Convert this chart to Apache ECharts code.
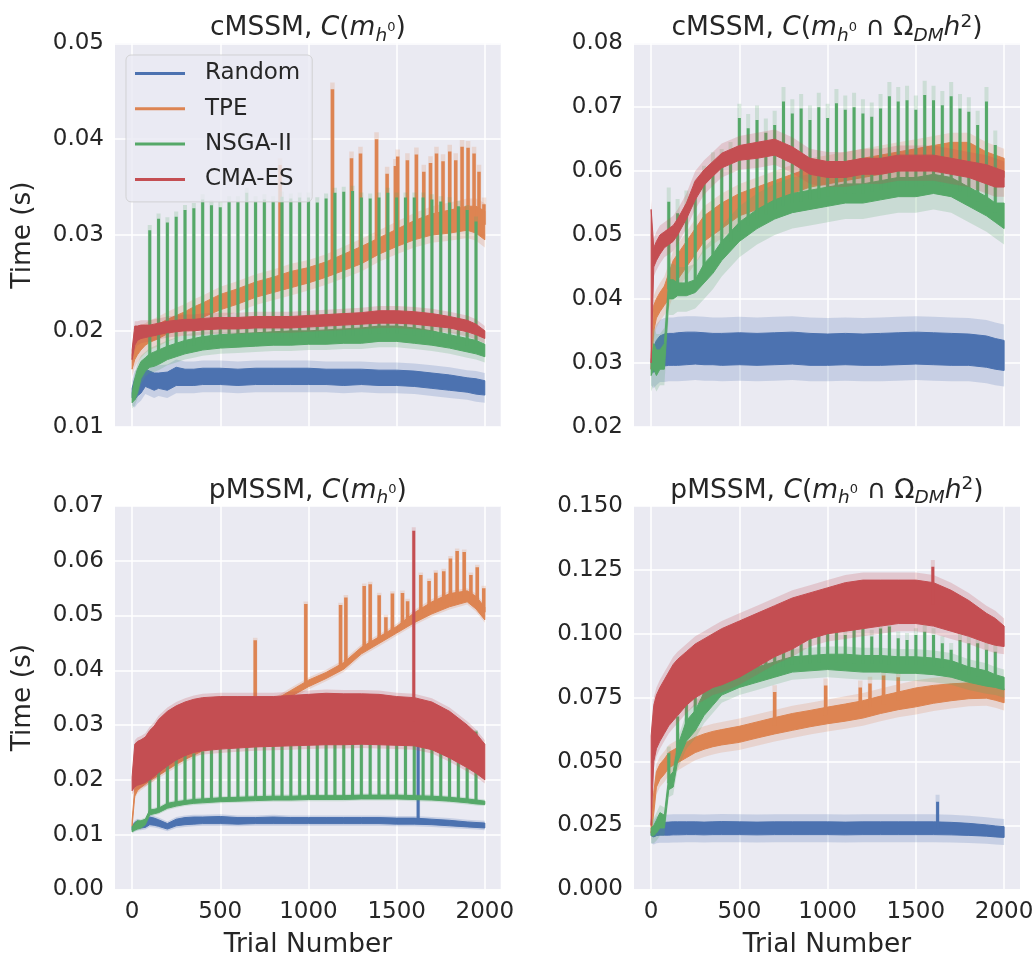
<!DOCTYPE html>
<html><head><meta charset="utf-8">
<script src="https://cdn.jsdelivr.net/npm/echarts@6/dist/echarts.min.js"></script>
<style>html,body{margin:0;padding:0;background:#fff}#c{width:1035px;height:959px}</style>
</head><body><div id="c"></div><script>
// ---------- shared data ----------
const algorithms = ['Random', 'TPE', 'NSGA-II', 'CMA-ES'];
const trials = [0,15,30,50,75,100,125,150,200,250,300,350,400,500,600,700,800,900,1000,1100,1200,1300,1400,1500,1600,1700,1800,1900,1950,2000];
const xTicks = [0, 500, 1000, 1500, 2000];
const nsgaSpikeTrials = [100,150,200,250,300,350,400,450,500,550,600,650,700,750,800,850,900,950,1000,1050,1100,1150,1200,1250,1300,1350,1400,1450,1500,1550,1600,1650,1700,1750,1800,1850,1900,1950];

// ---------- cMSSM, C(m_h0) ----------
const cm1RandomLo = [0.0130,0.0128,0.0132,0.0135,0.0142,0.0140,0.0138,0.0140,0.0138,0.0143,0.0143,0.0143,0.0144,0.0144,0.0143,0.0144,0.0144,0.0144,0.0144,0.0144,0.0143,0.0144,0.0143,0.0143,0.0142,0.0140,0.0138,0.0136,0.0134,0.0133];
const cm1RandomHi = [0.0140,0.0150,0.0152,0.0155,0.0160,0.0158,0.0156,0.0156,0.0157,0.0162,0.0160,0.0160,0.0161,0.0161,0.0160,0.0161,0.0161,0.0161,0.0161,0.0160,0.0160,0.0160,0.0159,0.0159,0.0158,0.0156,0.0154,0.0151,0.0150,0.0148];
const cm1TpeLo = [0.0160,0.0170,0.0175,0.0180,0.0185,0.0188,0.0190,0.0192,0.0197,0.0200,0.0205,0.0210,0.0214,0.0222,0.0228,0.0235,0.0240,0.0245,0.0250,0.0256,0.0263,0.0270,0.0280,0.0288,0.0295,0.0300,0.0302,0.0305,0.0302,0.0295];
const cm1TpeHi = [0.0175,0.0190,0.0195,0.0198,0.0200,0.0203,0.0205,0.0207,0.0212,0.0216,0.0220,0.0225,0.0229,0.0238,0.0244,0.0251,0.0256,0.0262,0.0266,0.0272,0.0280,0.0288,0.0297,0.0306,0.0315,0.0322,0.0326,0.0330,0.0330,0.0325];
const cm1TpeSpikeTrials = [839,1136,1244,1295,1386,1446,1493,1506,1561,1612,1654,1692,1726,1763,1801,1835,1871,1905,1939,1967,1995];
const cm1TpeSpikePeaks = [0.0373,0.0452,0.0380,0.0385,0.0400,0.0364,0.0372,0.0382,0.0378,0.0384,0.0366,0.0375,0.0385,0.0377,0.0387,0.0378,0.0392,0.0391,0.0385,0.0366,0.0332];
const cm1NsgaLo = [0.0125,0.0128,0.0135,0.0150,0.0158,0.0162,0.0163,0.0165,0.0170,0.0173,0.0176,0.0178,0.0180,0.0182,0.0183,0.0184,0.0185,0.0185,0.0186,0.0186,0.0187,0.0187,0.0189,0.0189,0.0187,0.0185,0.0182,0.0178,0.0176,0.0173];
const cm1NsgaHi = [0.0135,0.0150,0.0160,0.0168,0.0172,0.0176,0.0178,0.0180,0.0184,0.0187,0.0190,0.0192,0.0194,0.0196,0.0197,0.0198,0.0199,0.0200,0.0200,0.0201,0.0202,0.0203,0.0205,0.0205,0.0203,0.0200,0.0196,0.0192,0.0190,0.0186];
const cm1NsgaSpikePeaks = [0.0305,0.0317,0.0313,0.0319,0.0326,0.0328,0.0337,0.0331,0.0329,0.0335,0.0335,0.0344,0.0335,0.0337,0.0335,0.0340,0.0338,0.0339,0.0339,0.0334,0.0338,0.0344,0.0345,0.0346,0.0339,0.0338,0.0339,0.0344,0.0339,0.0339,0.0339,0.0339,0.0337,0.0335,0.0334,0.0330,0.0326,0.0314];
const cm1CmaLo = [0.0170,0.0185,0.0190,0.0192,0.0193,0.0194,0.0195,0.0196,0.0198,0.0199,0.0200,0.0200,0.0201,0.0202,0.0202,0.0203,0.0203,0.0203,0.0204,0.0205,0.0206,0.0207,0.0208,0.0208,0.0207,0.0205,0.0203,0.0199,0.0196,0.0192];
const cm1CmaHi = [0.0180,0.0205,0.0205,0.0206,0.0206,0.0206,0.0207,0.0208,0.0210,0.0211,0.0212,0.0212,0.0213,0.0214,0.0214,0.0215,0.0215,0.0215,0.0216,0.0217,0.0218,0.0219,0.0221,0.0221,0.0220,0.0218,0.0215,0.0211,0.0207,0.0200];
const cm1CI = [0.0008, 0.0008, 0.0006, 0.0005];

// ---------- cMSSM, C(m_h0 ∩ Ω_DM h^2) ----------
const cm2RandomLo = [0.0290,0.0285,0.0290,0.0295,0.0295,0.0296,0.0296,0.0296,0.0297,0.0298,0.0297,0.0297,0.0296,0.0297,0.0296,0.0297,0.0298,0.0296,0.0296,0.0297,0.0296,0.0296,0.0297,0.0298,0.0297,0.0296,0.0296,0.0293,0.0290,0.0288];
const cm2RandomHi = [0.0305,0.0325,0.0335,0.0342,0.0345,0.0346,0.0346,0.0347,0.0348,0.0348,0.0347,0.0346,0.0346,0.0347,0.0346,0.0347,0.0348,0.0346,0.0345,0.0346,0.0345,0.0346,0.0347,0.0348,0.0347,0.0346,0.0345,0.0342,0.0338,0.0335];
const cm2TpeLo = [0.0290,0.0350,0.0370,0.0380,0.0390,0.0400,0.0420,0.0430,0.0450,0.0470,0.0490,0.0500,0.0510,0.0530,0.0540,0.0550,0.0565,0.0575,0.0580,0.0585,0.0590,0.0595,0.0600,0.0605,0.0610,0.0615,0.0615,0.0600,0.0595,0.0590];
const cm2TpeHi = [0.0310,0.0390,0.0400,0.0410,0.0420,0.0440,0.0460,0.0470,0.0490,0.0510,0.0530,0.0540,0.0550,0.0565,0.0575,0.0585,0.0595,0.0605,0.0610,0.0615,0.0620,0.0625,0.0630,0.0635,0.0640,0.0645,0.0645,0.0630,0.0625,0.0620];
const cm2NsgaLo = [0.0280,0.0290,0.0280,0.0290,0.0290,0.0400,0.0400,0.0405,0.0405,0.0410,0.0425,0.0440,0.0460,0.0490,0.0510,0.0525,0.0535,0.0540,0.0545,0.0550,0.0550,0.0555,0.0560,0.0560,0.0565,0.0560,0.0545,0.0530,0.0520,0.0510];
const cm2NsgaHi = [0.0300,0.0330,0.0320,0.0320,0.0330,0.0430,0.0430,0.0425,0.0425,0.0430,0.0455,0.0470,0.0490,0.0520,0.0540,0.0555,0.0565,0.0570,0.0575,0.0580,0.0580,0.0585,0.0590,0.0590,0.0595,0.0590,0.0575,0.0560,0.0550,0.0550];
const cm2NsgaSpikePeaks = [0.0552,0.0534,0.0547,0.0560,0.0586,0.0607,0.0612,0.0623,0.0683,0.0667,0.0680,0.0660,0.0672,0.0709,0.0690,0.0698,0.0680,0.0700,0.0683,0.0706,0.0696,0.0700,0.0690,0.0685,0.0698,0.0717,0.0709,0.0711,0.0696,0.0719,0.0711,0.0703,0.0717,0.0698,0.0693,0.0672,0.0709,0.0641];
const cm2CmaLo = [0.0300,0.0450,0.0460,0.0470,0.0480,0.0485,0.0490,0.0500,0.0525,0.0555,0.0578,0.0592,0.0605,0.0617,0.0620,0.0625,0.0612,0.0595,0.0590,0.0590,0.0595,0.0595,0.0600,0.0600,0.0600,0.0595,0.0590,0.0580,0.0575,0.0575];
const cm2CmaHi = [0.0540,0.0480,0.0490,0.0500,0.0505,0.0510,0.0515,0.0525,0.0550,0.0585,0.0602,0.0615,0.0628,0.0640,0.0645,0.0650,0.0638,0.0620,0.0615,0.0615,0.0620,0.0620,0.0625,0.0625,0.0625,0.0620,0.0615,0.0610,0.0605,0.0600];
const cm2CI = [0.0025, 0.0015, 0.0025, 0.0015];

// ---------- pMSSM, C(m_h0) ----------
const pm1RandomLo = [0.0108,0.0110,0.0112,0.0112,0.0113,0.0118,0.0117,0.0115,0.0110,0.0116,0.0118,0.0119,0.0120,0.0120,0.0119,0.0120,0.0120,0.0120,0.0120,0.0120,0.0120,0.0120,0.0120,0.0119,0.0119,0.0118,0.0116,0.0114,0.0113,0.0112];
const pm1RandomHi = [0.0115,0.0122,0.0125,0.0122,0.0124,0.0132,0.0130,0.0127,0.0120,0.0128,0.0131,0.0132,0.0132,0.0133,0.0131,0.0131,0.0132,0.0131,0.0131,0.0131,0.0131,0.0131,0.0131,0.0130,0.0130,0.0128,0.0126,0.0123,0.0122,0.0121];
const pm1RandomSpikeTrials = [1622];
const pm1RandomSpikePeaks = [0.0264];
const pm1TpeLo = [0.0115,0.0170,0.0180,0.0186,0.0192,0.0198,0.0203,0.0208,0.0218,0.0228,0.0237,0.0245,0.0253,0.0270,0.0290,0.0312,0.0332,0.0352,0.0370,0.0385,0.0402,0.0430,0.0449,0.0468,0.0487,0.0503,0.0516,0.0525,0.0512,0.0492];
const pm1TpeHi = [0.0125,0.0185,0.0192,0.0197,0.0203,0.0208,0.0213,0.0218,0.0229,0.0239,0.0248,0.0256,0.0264,0.0282,0.0302,0.0324,0.0344,0.0363,0.0382,0.0396,0.0414,0.0442,0.0461,0.0480,0.0505,0.0525,0.0540,0.0545,0.0535,0.0515];
const pm1TpeSpikeTrials = [698,985,1182,1212,1316,1350,1401,1439,1476,1533,1562,1637,1684,1722,1767,1805,1843,1883,1921,1957,1994];
const pm1TpeSpikePeaks = [0.0455,0.0521,0.0519,0.0533,0.0554,0.0557,0.0537,0.0497,0.0540,0.0541,0.0526,0.0574,0.0563,0.0578,0.0581,0.0604,0.0618,0.0616,0.0574,0.0588,0.0550];
const pm1NsgaLo = [0.0105,0.0108,0.0110,0.0112,0.0118,0.0136,0.0138,0.0140,0.0148,0.0152,0.0155,0.0157,0.0158,0.0160,0.0161,0.0162,0.0163,0.0163,0.0164,0.0164,0.0164,0.0165,0.0165,0.0165,0.0164,0.0163,0.0161,0.0158,0.0156,0.0155];
const pm1NsgaHi = [0.0114,0.0120,0.0125,0.0125,0.0128,0.0145,0.0146,0.0148,0.0157,0.0160,0.0162,0.0164,0.0165,0.0167,0.0168,0.0169,0.0170,0.0170,0.0171,0.0171,0.0171,0.0172,0.0172,0.0172,0.0171,0.0170,0.0168,0.0165,0.0163,0.0161];
const pm1NsgaSpikePeaks = [0.0209,0.0230,0.0236,0.0240,0.0245,0.0248,0.0252,0.0256,0.0260,0.0262,0.0264,0.0265,0.0266,0.0266,0.0266,0.0266,0.0266,0.0267,0.0267,0.0267,0.0267,0.0267,0.0268,0.0268,0.0268,0.0268,0.0268,0.0267,0.0266,0.0266,0.0265,0.0262,0.0258,0.0250,0.0240,0.0232,0.0222,0.0288];
const pm1CmaLo = [0.0180,0.0187,0.0190,0.0192,0.0195,0.0200,0.0206,0.0213,0.0225,0.0236,0.0244,0.0250,0.0253,0.0256,0.0258,0.0260,0.0261,0.0262,0.0263,0.0264,0.0264,0.0265,0.0264,0.0263,0.0262,0.0255,0.0240,0.0222,0.0212,0.0200];
const pm1CmaHi = [0.0205,0.0265,0.0270,0.0273,0.0278,0.0290,0.0298,0.0310,0.0325,0.0335,0.0342,0.0347,0.0350,0.0352,0.0352,0.0352,0.0352,0.0354,0.0356,0.0358,0.0357,0.0357,0.0356,0.0352,0.0350,0.0342,0.0325,0.0300,0.0285,0.0265];
const pm1CmaSpikeTrials = [1597];
const pm1CmaSpikePeaks = [0.0655];
const pm1CI = [0.0004, 0.0005, 0.0003, 0.0007];

// ---------- pMSSM, C(m_h0 ∩ Ω_DM h^2) ----------
const pm2RandomLo = [0.0210,0.0205,0.0210,0.0212,0.0212,0.0212,0.0213,0.0213,0.0214,0.0214,0.0213,0.0214,0.0214,0.0214,0.0213,0.0214,0.0214,0.0214,0.0214,0.0213,0.0214,0.0214,0.0214,0.0214,0.0214,0.0213,0.0211,0.0208,0.0205,0.0203];
const pm2RandomHi = [0.0225,0.0240,0.0255,0.0262,0.0262,0.0263,0.0264,0.0264,0.0264,0.0264,0.0263,0.0264,0.0265,0.0264,0.0263,0.0264,0.0264,0.0264,0.0264,0.0263,0.0264,0.0264,0.0264,0.0264,0.0264,0.0262,0.0258,0.0252,0.0248,0.0245];
const pm2RandomSpikeTrials = [1623];
const pm2RandomSpikePeaks = [0.0343];
const pm2TpeLo = [0.0220,0.0300,0.0400,0.0430,0.0450,0.0475,0.0485,0.0495,0.0515,0.0535,0.0548,0.0558,0.0565,0.0575,0.0592,0.0608,0.0622,0.0636,0.0648,0.0658,0.0670,0.0688,0.0703,0.0714,0.0728,0.0738,0.0746,0.0748,0.0740,0.0730];
const pm2TpeHi = [0.0260,0.0380,0.0460,0.0490,0.0510,0.0535,0.0545,0.0555,0.0575,0.0595,0.0608,0.0618,0.0625,0.0638,0.0655,0.0672,0.0688,0.0700,0.0713,0.0725,0.0738,0.0756,0.0772,0.0788,0.0798,0.0804,0.0808,0.0805,0.0795,0.0785];
const pm2TpeSpikeTrials = [700,989,1185,1240,1317,1400];
const pm2TpeSpikePeaks = [0.0772,0.0798,0.0790,0.0805,0.0837,0.0830];
const pm2NsgaLo = [0.0210,0.0210,0.0220,0.0240,0.0240,0.0390,0.0400,0.0500,0.0580,0.0620,0.0680,0.0720,0.0760,0.0790,0.0810,0.0830,0.0850,0.0855,0.0860,0.0855,0.0850,0.0850,0.0845,0.0845,0.0840,0.0830,0.0810,0.0795,0.0790,0.0780];
const pm2NsgaHi = [0.0240,0.0250,0.0270,0.0300,0.0290,0.0440,0.0460,0.0560,0.0660,0.0700,0.0770,0.0790,0.0820,0.0850,0.0870,0.0890,0.0910,0.0915,0.0920,0.0920,0.0915,0.0915,0.0910,0.0910,0.0905,0.0895,0.0870,0.0855,0.0840,0.0830];
const pm2NsgaSpikePeaks = [0.0532,0.0676,0.0728,0.0773,0.0780,0.0806,0.0845,0.0858,0.0884,0.0870,0.0904,0.0910,0.0930,0.0945,0.0963,0.0960,0.0982,0.1008,0.1015,0.1008,0.0995,0.1021,0.1021,0.0989,0.1021,0.1028,0.0982,0.0976,0.0995,0.1008,0.0995,0.0963,0.0937,0.0976,0.0963,0.0963,0.0937,0.0930];
const pm2CmaLo = [0.0250,0.0500,0.0550,0.0580,0.0610,0.0640,0.0660,0.0680,0.0720,0.0750,0.0770,0.0790,0.0800,0.0830,0.0870,0.0910,0.0940,0.0980,0.1000,0.1010,0.1020,0.1030,0.1040,0.1040,0.1030,0.1010,0.0990,0.0965,0.0955,0.0950];
const pm2CmaHi = [0.0600,0.0720,0.0760,0.0790,0.0820,0.0850,0.0880,0.0900,0.0930,0.0960,0.0980,0.1000,0.1020,0.1050,0.1080,0.1110,0.1140,0.1160,0.1180,0.1200,0.1210,0.1210,0.1210,0.1210,0.1200,0.1170,0.1130,0.1080,0.1060,0.1030];
const pm2CmaSpikeTrials = [1596];
const pm2CmaSpikePeaks = [0.1262];
const pm2CI = [0.003, 0.003, 0.003, 0.003];

// ---------- axes ----------
const yMins = [0.01, 0.02, 0.00, 0.000];
const yMaxs = [0.05, 0.08, 0.07, 0.150];
const yIntervals = [0.01, 0.01, 0.01, 0.025];
const yDecimals = [2, 2, 2, 3];

// ---------- build ----------
const COLORS = ['#4C72B0', '#DD8452', '#55A868', '#C44E52'];
const SPIKE_W = [3, 3.5, 3, 3];
const TXT = '#262626';
const FONT = 'DejaVu Sans';

const panels = [
  { lo: [cm1RandomLo, cm1TpeLo, cm1NsgaLo, cm1CmaLo], hi: [cm1RandomHi, cm1TpeHi, cm1NsgaHi, cm1CmaHi], ci: cm1CI,
    spikes: [null, [cm1TpeSpikeTrials, cm1TpeSpikePeaks], [nsgaSpikeTrials, cm1NsgaSpikePeaks], null] },
  { lo: [cm2RandomLo, cm2TpeLo, cm2NsgaLo, cm2CmaLo], hi: [cm2RandomHi, cm2TpeHi, cm2NsgaHi, cm2CmaHi], ci: cm2CI,
    spikes: [null, null, [nsgaSpikeTrials, cm2NsgaSpikePeaks], null] },
  { lo: [pm1RandomLo, pm1TpeLo, pm1NsgaLo, pm1CmaLo], hi: [pm1RandomHi, pm1TpeHi, pm1NsgaHi, pm1CmaHi], ci: pm1CI,
    spikes: [[pm1RandomSpikeTrials, pm1RandomSpikePeaks], [pm1TpeSpikeTrials, pm1TpeSpikePeaks], [nsgaSpikeTrials, pm1NsgaSpikePeaks], [pm1CmaSpikeTrials, pm1CmaSpikePeaks]] },
  { lo: [pm2RandomLo, pm2TpeLo, pm2NsgaLo, pm2CmaLo], hi: [pm2RandomHi, pm2TpeHi, pm2NsgaHi, pm2CmaHi], ci: pm2CI,
    spikes: [[pm2RandomSpikeTrials, pm2RandomSpikePeaks], [pm2TpeSpikeTrials, pm2TpeSpikePeaks], [nsgaSpikeTrials, pm2NsgaSpikePeaks], [pm2CmaSpikeTrials, pm2CmaSpikePeaks]] }
];

function midAt(t, lo, hi) {
  for (let i = 0; i < trials.length - 1; i++) {
    if (t <= trials[i + 1]) {
      const f = (t - trials[i]) / (trials[i + 1] - trials[i]);
      return ((lo[i] + hi[i]) / 2) * (1 - f) + ((lo[i + 1] + hi[i + 1]) / 2) * f;
    }
  }
  return (lo[lo.length - 1] + hi[hi.length - 1]) / 2;
}

function makeRender(lo, hi, ci, color, spikes, sw) {
  return function (params, api) {
    if (params.dataIndex !== 0) return null;
    const n = trials.length;
    const up = [], dn = [], cu = [], cd = [];
    for (let i = 0; i < n; i++) {
      up.push(api.coord([trials[i], hi[i]]));
      cu.push(api.coord([trials[i], hi[i] + ci]));
    }
    for (let i = n - 1; i >= 0; i--) {
      dn.push(api.coord([trials[i], lo[i]]));
      cd.push(api.coord([trials[i], lo[i] - ci]));
    }
    const children = [];
    children.push({ type: 'polygon', shape: { points: cu.concat(cd) }, style: { fill: color, opacity: 0.22 } });
    if (spikes) {
      spikes[0].forEach((t, k) => {
        const b = api.coord([t, midAt(t, lo, hi)]);
        const p = api.coord([t, spikes[1][k] + 0.9 * ci]);
        children.push({ type: 'line', shape: { x1: b[0], y1: b[1], x2: p[0], y2: p[1] }, style: { stroke: color, lineWidth: sw + 1, opacity: 0.2 } });
      });
    }
    children.push({ type: 'polygon', shape: { points: up.concat(dn) }, style: { fill: color, stroke: color, lineWidth: 1 } });
    if (spikes) {
      spikes[0].forEach((t, k) => {
        const b = api.coord([t, midAt(t, lo, hi)]);
        const p = api.coord([t, spikes[1][k]]);
        children.push({ type: 'line', shape: { x1: b[0], y1: b[1], x2: p[0], y2: p[1] }, style: { stroke: color, lineWidth: sw } });
      });
    }
    return { type: 'group', children };
  };
}

const grids = [
  { left: 115, top: 43.3, width: 385.7, height: 383.4 },
  { left: 634, top: 43.3, width: 386, height: 383.4 },
  { left: 115, top: 506, width: 385.7, height: 383.3 },
  { left: 634, top: 506, width: 386, height: 383.3 }
].map(g => Object.assign(g, { show: true, backgroundColor: '#EAEAF2', borderWidth: 0, containLabel: false, outerBoundsMode: 'none' }));

const xAxes = grids.map((g, i) => ({
  type: 'value', gridIndex: i, min: -97, max: 2090,
  axisLine: { show: false },
  axisTick: { show: false, customValues: xTicks },
  axisLabel: { show: i >= 2, customValues: xTicks, formatter: v => String(v), fontSize: 23, color: TXT, fontFamily: FONT, margin: 11 },
  splitLine: { show: true, lineStyle: { color: '#ffffff', width: 1.5 } },
  name: i >= 2 ? 'Trial Number' : '', nameLocation: 'middle', nameGap: 43,
  nameTextStyle: { fontSize: 26.4, color: TXT, fontFamily: FONT }
}));

const yAxes = grids.map((g, i) => ({
  type: 'value', gridIndex: i, min: yMins[i], max: yMaxs[i], interval: yIntervals[i],
  axisLine: { show: false }, axisTick: { show: false },
  axisLabel: { formatter: v => v.toFixed(yDecimals[i]), fontSize: 23, color: TXT, fontFamily: FONT, margin: 11 },
  splitLine: { show: true, lineStyle: { color: '#ffffff', width: 1.5 } },
  name: (i % 2 === 0) ? 'Time (s)' : '', nameLocation: 'middle', nameGap: 79, nameRotate: 90,
  nameTextStyle: { fontSize: 26.4, color: TXT, fontFamily: FONT }
}));

const series = [];
panels.forEach((p, gi) => {
  algorithms.forEach((name, ai) => {
    series.push({
      type: 'custom', name, xAxisIndex: gi, yAxisIndex: gi,
      itemStyle: { color: COLORS[ai] },
      data: trials.map((t, k) => [t, p.lo[ai][k], p.hi[ai][k]]),
      encode: { x: 0, y: [1, 2] },
      clip: true, silent: true,
      renderItem: makeRender(p.lo[ai], p.hi[ai], p.ci[ai], COLORS[ai], p.spikes[ai], SPIKE_W[ai])
    });
  });
});

const richStyles = {
  n: { fontSize: 26.5, fontFamily: FONT, fill: TXT, verticalAlign: 'middle' },
  i: { fontSize: 26.5, fontFamily: FONT, fontStyle: 'italic', fill: TXT, verticalAlign: 'middle' },
  sub: { fontSize: 18.5, fontFamily: FONT, fontStyle: 'italic', fill: TXT, verticalAlign: 'middle', padding: [15, 0, 0, 0] },
  sup: { fontSize: 13, fontFamily: FONT, fill: TXT, verticalAlign: 'middle', padding: [0, 0, 2, 0] },
  sup2: { fontSize: 18.5, fontFamily: FONT, fill: TXT, verticalAlign: 'middle', padding: [0, 0, 13, 0] }
};
const titleTexts = [
  '{n|cMSSM, }{i|C}{n|(}{i|m}{sub|h}{sup|0}{n|)}',
  '{n|cMSSM, }{i|C}{n|(}{i|m}{sub|h}{sup|0}{n| ∩ Ω}{sub|DM}{i|h}{sup2|2}{n|)}',
  '{n|pMSSM, }{i|C}{n|(}{i|m}{sub|h}{sup|0}{n|)}',
  '{n|pMSSM, }{i|C}{n|(}{i|m}{sub|h}{sup|0}{n| ∩ Ω}{sub|DM}{i|h}{sup2|2}{n|)}'
];
const titleGraphics = grids.map((g, i) => ({
  type: 'text', z: 100,
  x: g.left + g.width / 2, y: g.top - 15,
  style: { text: titleTexts[i], rich: richStyles, align: 'center', verticalAlign: 'middle', fontSize: 26.5, fontFamily: FONT, fill: TXT }
}));

const chart = echarts.init(document.getElementById('c'), null, { renderer: 'canvas' });
chart.setOption({
  animation: false,
  backgroundColor: '#ffffff',
  color: COLORS,
  textStyle: { fontFamily: FONT, color: TXT },
  grid: grids, xAxis: xAxes, yAxis: yAxes, series,
  legend: {
    data: algorithms, orient: 'vertical', left: 126, top: 55,
    icon: 'rect', itemWidth: 50, itemHeight: 3, itemGap: 10.3,
    padding: [6, 12, 10, 9],
    backgroundColor: 'rgba(234,234,242,0.8)', borderColor: 'rgba(204,204,204,0.8)', borderWidth: 1, borderRadius: 5,
    textStyle: { fontSize: 23, color: TXT, fontFamily: FONT, lineHeight: 25, padding: [0, 0, 0, 15] },
    selectedMode: false
  },
  graphic: titleGraphics
});
</script></body></html>
